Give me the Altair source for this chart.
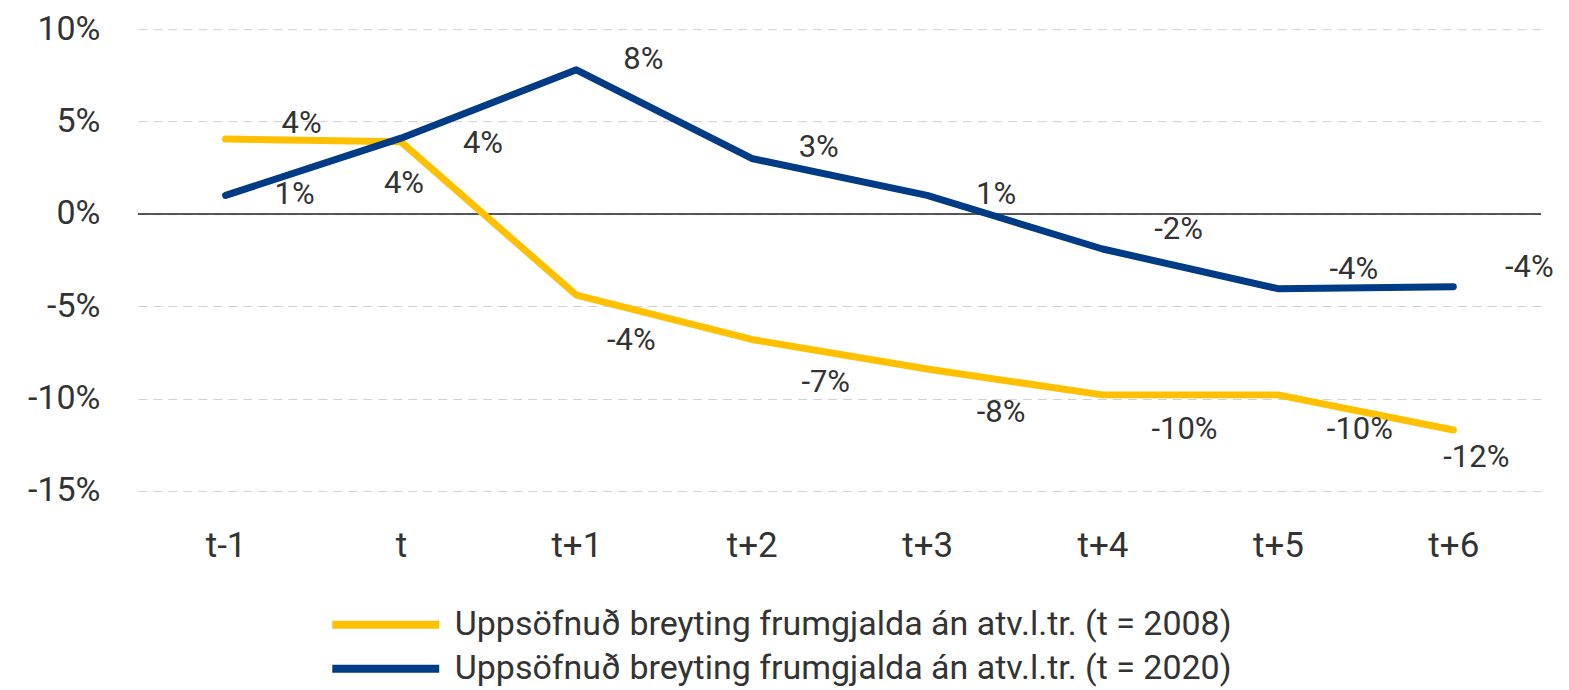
import altair as alt
import pandas as pd

categories = ["t-1", "t", "t+1", "t+2", "t+3", "t+4", "t+5", "t+6"]
series_names = [
    "Uppsöfnuð breyting frumgjalda án atv.l.tr. (t = 2008)",
    "Uppsöfnuð breyting frumgjalda án atv.l.tr. (t = 2020)",
]
values_2008 = [4.05, 3.9, -4.4, -6.8, -8.4, -9.8, -9.8, -11.7]
values_2020 = [1.0, 4.1, 7.8, 3.0, 1.0, -1.9, -4.05, -3.95]
colors = ["#FFC000", "#003B85"]
y_ticks = [-15, -10, -5, 0, 5, 10]

rows = []
for name, vals in zip(series_names, [values_2008, values_2020]):
    for c, v in zip(categories, vals):
        rows.append({"cat": c, "value": v, "series": name})
df = pd.DataFrame(rows)

FONT = "Roboto"
TXT = "#333333"

x_enc = alt.X(
    "cat:N",
    sort=categories,
    title=None,
    axis=alt.Axis(
        labelFontSize=35, labelFont=FONT, labelColor=TXT, labelAngle=0,
        ticks=False, domain=False, labelPadding=38, grid=False,
    ),
)
y_enc = alt.Y(
    "value:Q",
    title=None,
    scale=alt.Scale(domain=[-15, 10], nice=False, zero=False),
    axis=alt.Axis(
        values=y_ticks, labelExpr="datum.value + '%'",
        labelFontSize=34, labelFont=FONT, labelColor=TXT,
        ticks=False, domain=False, labelPadding=38,
        grid=True, gridColor="#D0D0D0", gridDash=[9, 6], gridWidth=1,
    ),
)

base = alt.Chart(df)

zero = alt.Chart(pd.DataFrame({"z": [0]})).mark_rule(color="#222222", strokeWidth=1.5).encode(
    y=alt.Y("z:Q", scale=alt.Scale(domain=[-15, 10]))
)

lines = base.mark_line(strokeWidth=7, strokeCap="round", strokeJoin="round").encode(
    x=x_enc,
    y=y_enc,
    color=alt.Color(
        "series:N",
        scale=alt.Scale(domain=series_names, range=colors),
        legend=alt.Legend(
            title=None, orient="none", legendX=231, legendY=579,
            direction="vertical", symbolType="M-5,0H5", symbolSize=458,
            symbolStrokeWidth=8, labelFontSize=34, labelFont=FONT, labelColor=TXT,
            labelOffset=52, rowPadding=10, padding=0, labelLimit=1200,
        ),
    ),
    order=alt.Order("series:N"),
)

def labels(series, cats, dx, dy):
    return (
        base.transform_filter(alt.datum.series == series)
        .transform_filter(alt.FieldOneOfPredicate(field="cat", oneOf=cats))
        .transform_calculate(lbl="round(datum.value) + '%'")
        .mark_text(fontSize=31, font=FONT, color=TXT, dx=dx, dy=dy)
        .encode(
            x=alt.X("cat:N", sort=categories),
            y=alt.Y("value:Q"),
            text="lbl:N",
        )
    )

s08, s20 = series_names
text_layers = [
    labels(s08, ["t-1"], 76, -15),
    labels(s08, ["t"], 3, 42),
    labels(s08, ["t+1"], 55, 46),
    labels(s08, ["t+2", "t+3"], 74, 44),
    labels(s08, ["t+4", "t+5"], 82, 35),
    labels(s08, ["t+6"], 23, 28),
    labels(s20, ["t-1", "t+3"], 69, 0),
    labels(s20, ["t"], 82, 6),
    labels(s20, ["t+1", "t+2"], 67, -10),
    labels(s20, ["t+4", "t+5", "t+6"], 76, -19),
]

chart = (
    alt.layer(zero, lines, *text_layers)
    .properties(
        width=1404, height=462,
        autosize=alt.AutoSizeParams(type="none"),
        padding={"left": 130, "top": 21, "right": 20, "bottom": 199},
        background="white",
    )
    .configure_view(stroke=None)
)

chart.save("out.html", embed_options={"renderer": "svg", "actions": False})
